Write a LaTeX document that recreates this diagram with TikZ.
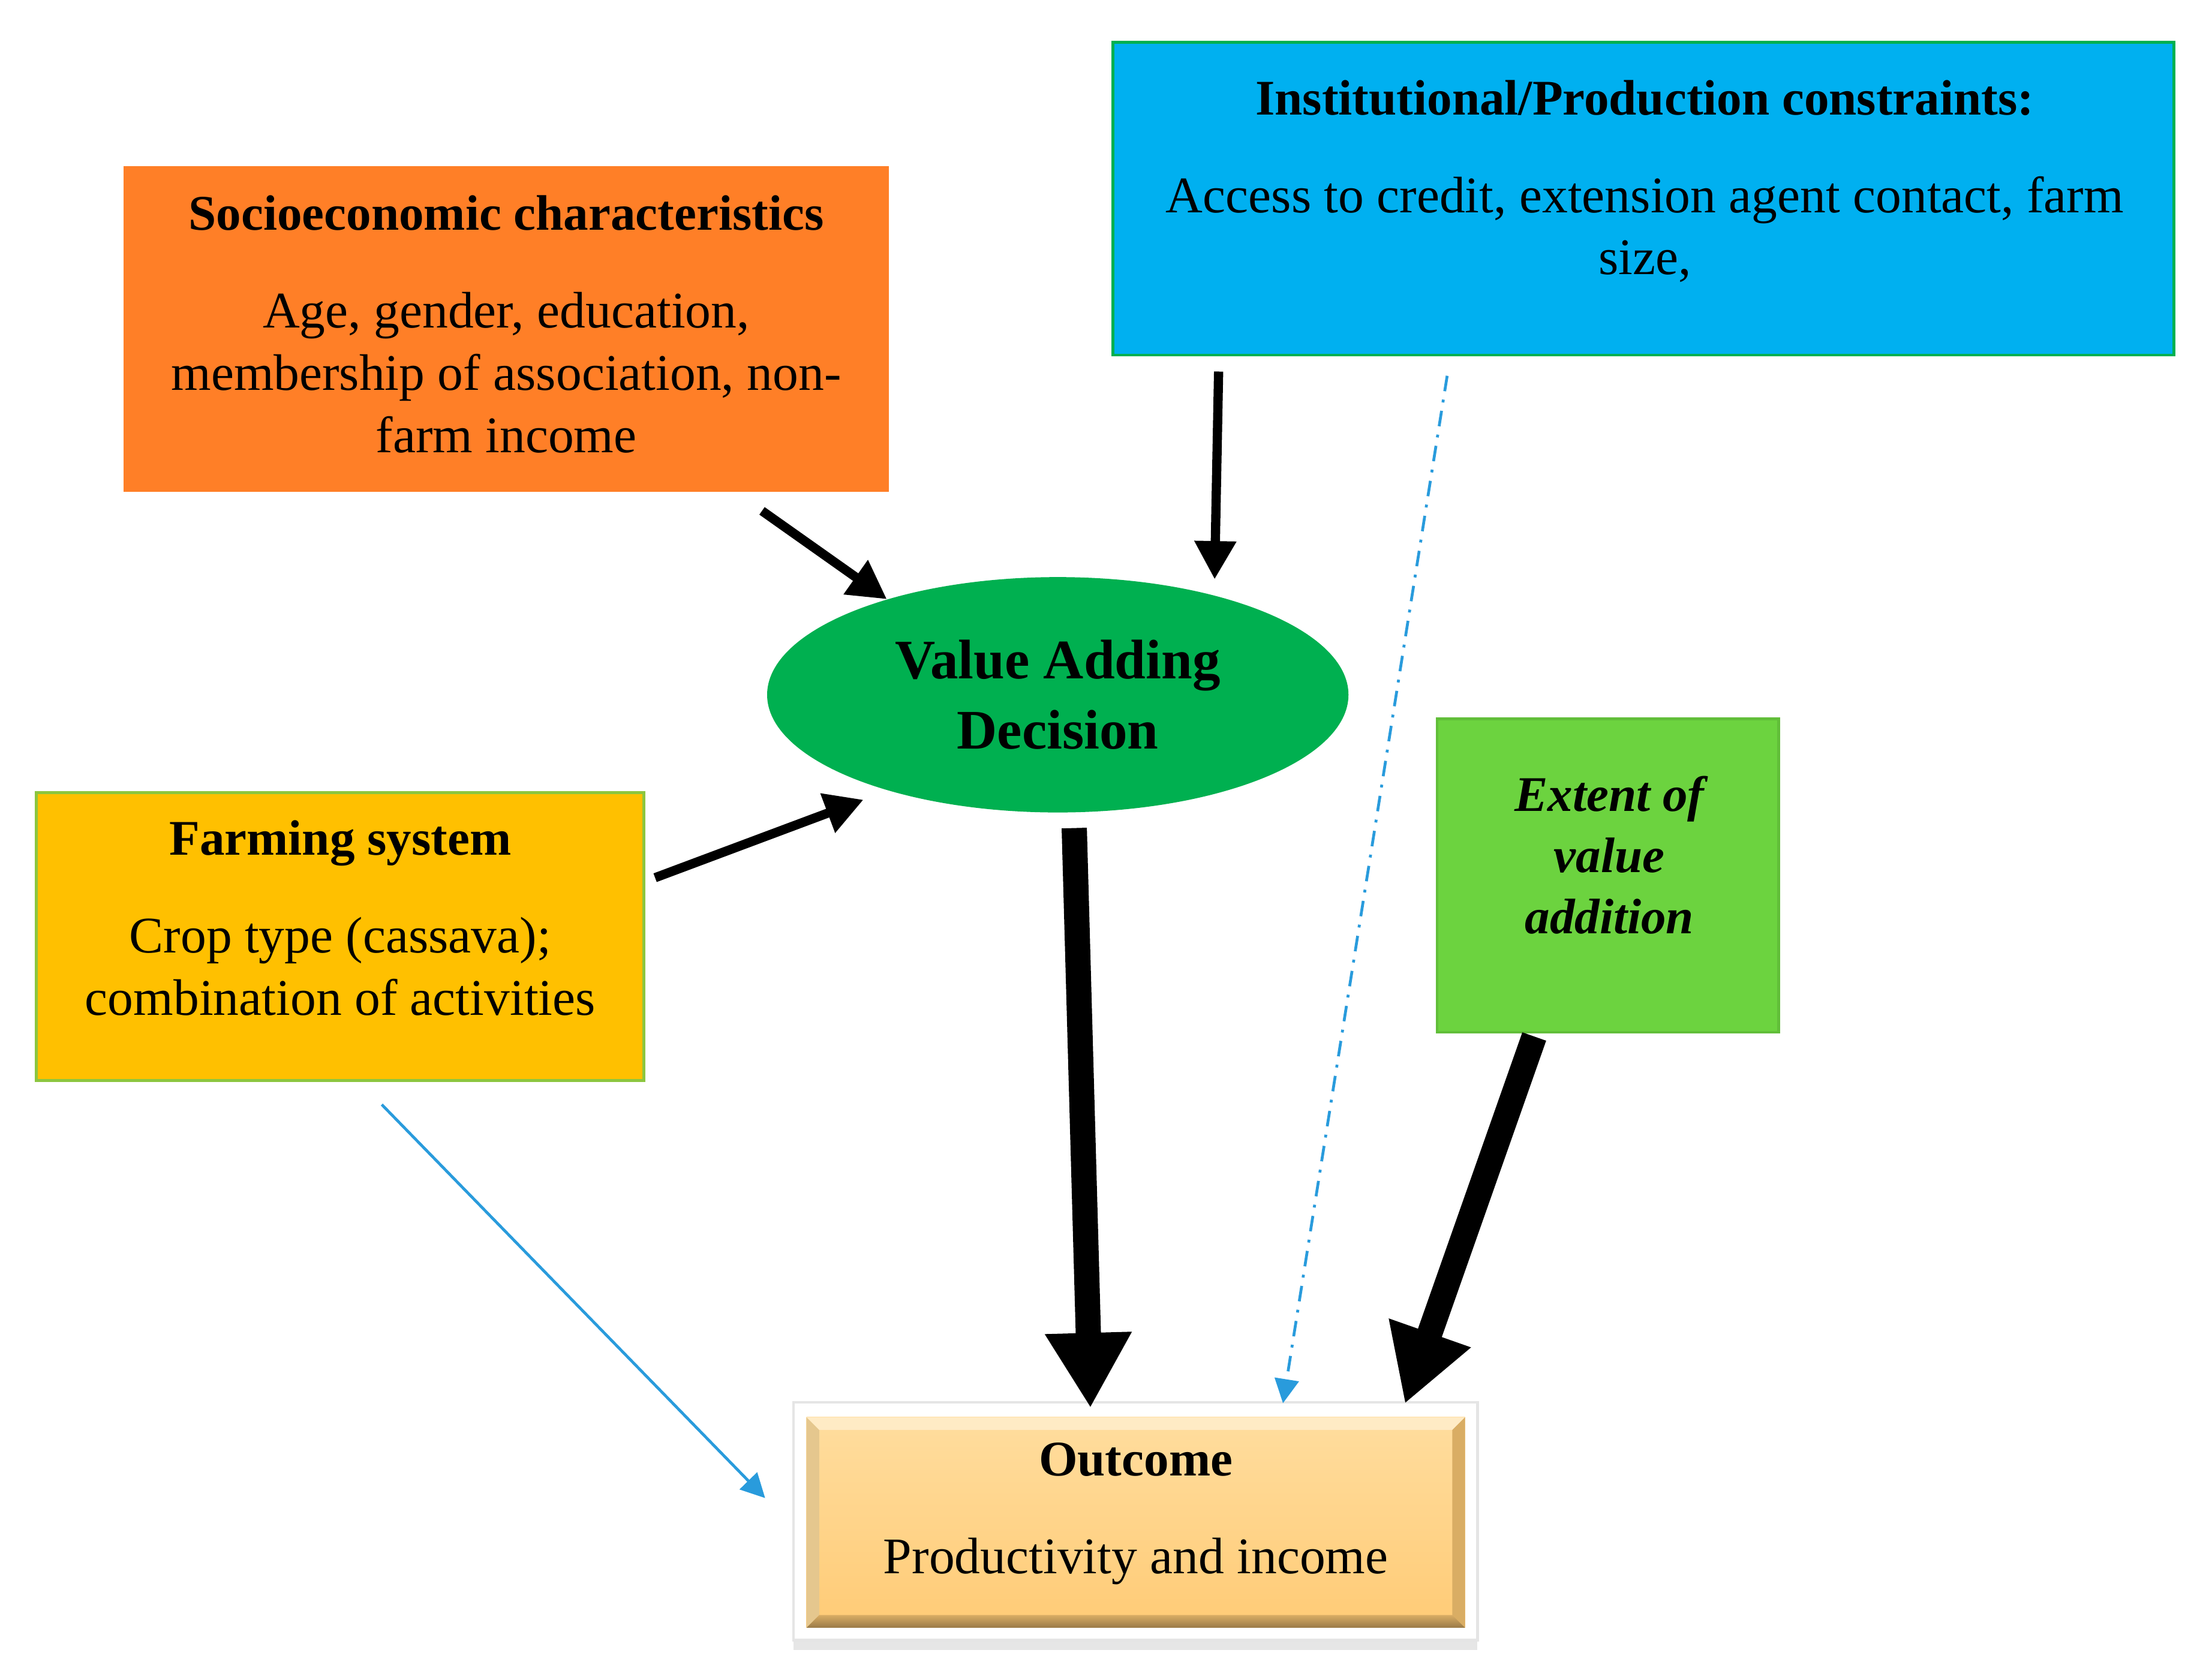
\documentclass[tikz,border=0pt]{standalone}
\usepackage{fontspec}
\setmainfont{Liberation Serif}
\usepackage{tikz}
\usetikzlibrary{arrows.meta,calc,shapes.geometric,shadows}
\definecolor{myorange}{RGB}{255,127,39}
\definecolor{myblue}{RGB}{0,176,240}
\definecolor{mygold}{RGB}{255,192,0}
\definecolor{mylime}{RGB}{108,211,63}
\definecolor{mygreen}{RGB}{0,176,80}
\definecolor{myleaf}{RGB}{140,198,63}
\definecolor{myline}{RGB}{41,155,220}
\definecolor{mytantop}{RGB}{255,221,158}
\definecolor{mytanbot}{RGB}{255,203,118}
\newcommand{\boxhead}[1]{{\fontsize{10}{12.5}\selectfont\bfseries #1}}

\begin{document}
\begin{tikzpicture}[x=0.1mm, y=-0.1mm,
    box/.style={rectangle, inner sep=0pt, outer sep=0pt, line width=0.2mm},
    txt/.style={anchor=base, align=center, inner sep=0pt, font=\fontsize{10.3}{12.5}\selectfont},
    thin arrow/.style={line width=0.65mm, -{Triangle[length=2.7mm,width=2.8mm]}},
    fat arrow/.style={line width=1.78mm, -{Triangle[length=5.3mm,width=5.75mm]}},
    blue arrow/.style={myline, line width=0.2mm, -{Triangle[length=1.7mm,width=1.7mm]}}]
    \useasboundingbox (0,0) rectangle (1560,1182.3);

    % boxes
    \node[box, fill=myorange, minimum width=54mm, minimum height=23mm] (S) at (357,232) {};
    \node[box, fill=myblue, draw=mygreen, minimum width=74.8mm, minimum height=22.05mm] (I) at (1159,140.2) {};
    \node[box, fill=mygold, draw=myleaf, minimum width=42.85mm, minimum height=20.3mm] (F) at (239.75,660.5) {};
    \node[box, fill=mylime, draw=mylime!90!black, minimum width=24.1mm, minimum height=22.1mm] (E) at (1134,617.5) {};
    \node[ellipse, fill=mygreen, inner sep=0pt, outer sep=0pt, minimum width=41mm, minimum height=16.6mm,
          align=center, font=\fontsize{11.2}{14.1}\selectfont\bfseries] (V) at (746,490) {Value Adding\\Decision};

    % outcome box with frame and bevel
    \node[box, fill=white, draw=black!10, minimum width=48.24mm, minimum height=16.76mm,
          drop shadow={shadow xshift=0mm, shadow yshift=-0.7mm, opacity=0.2}] (Of) at (800.8,1072.8) {};
    \node[box, top color=mytantop, bottom color=mytanbot, minimum width=46.45mm, minimum height=14.85mm] (O) at (801,1073.75) {};
    \fill[mytantop!60!white] (O.north west) -- (O.north east) -- ++(-9,9) -- ($(O.north west)+(9,9)$) -- cycle;
    \fill[mytantop!90!black] (O.north west) -- (O.south west) -- ++(9,-9) -- ($(O.north west)+(9,9)$) -- cycle;
    \fill[mytanbot!85!black] (O.north east) -- (O.south east) -- ++(-9,-9) -- ($(O.north east)+(-9,9)$) -- cycle;
    \shade[top color=mytanbot!85!black, bottom color=mytanbot!60!black] (O.south west) -- (O.south east) -- ++(-9,-9) -- ($(O.south west)+(9,-9)$) -- cycle;

    % texts (base = last line)
    \node[txt] (St) at (357,319) {\boxhead{Socioeconomic characteristics}\\[7.1pt]Age, gender, education,\\membership of association, non-\\farm income};
    \node[txt] (It) at (1160,193.7) {\boxhead{Institutional/Production constraints:}\\[7.1pt]Access to credit, extension agent contact, farm\\size,};
    \node[txt] (Ft) at (240,715.8) {\boxhead{Farming system}\\[7.1pt]Crop type (cassava);\\combination of activities};
    \node[txt, font=\fontsize{10}{12.3}\selectfont\bfseries\itshape] (Et) at (1135,658.6) {Extent of\\value\\addition};
    \node[txt] (Ot) at (801,1109.6) {\boxhead{Outcome}\\[7.1pt]Productivity and income};

    \path ($(S.south)+(180.4,13.3)$) edge[thin arrow] ($(V)+(-120.5,-67.4)$)
          ($(I.south west)+(74.4,11.6)$) edge[thin arrow] ($(V)+(110.6,-81.4)$)
          ($(F.east)+(8,-41.5)$) edge[thin arrow] ($(V)+(-137,74)$)
          ($(V.south)+(11.6,11)$) edge[fat arrow] ($(Of.north)+(-31.8,4)$)
          ($(E.south)+(-52,3)$) edge[fat arrow] ($(Of.north)+(190,1)$)
          ($(I.south west)+(235.6,14.6)$) edge[blue arrow, dash pattern=on 1.1mm off 0.6mm on 0.2mm off 0.6mm] ($(Of.north)+(104,0.6)$)
          ($(F.south)+(29.5,17)$) edge[blue arrow] ($(Of.west)+(-20,-16.3)$);
\end{tikzpicture}
\end{document}
